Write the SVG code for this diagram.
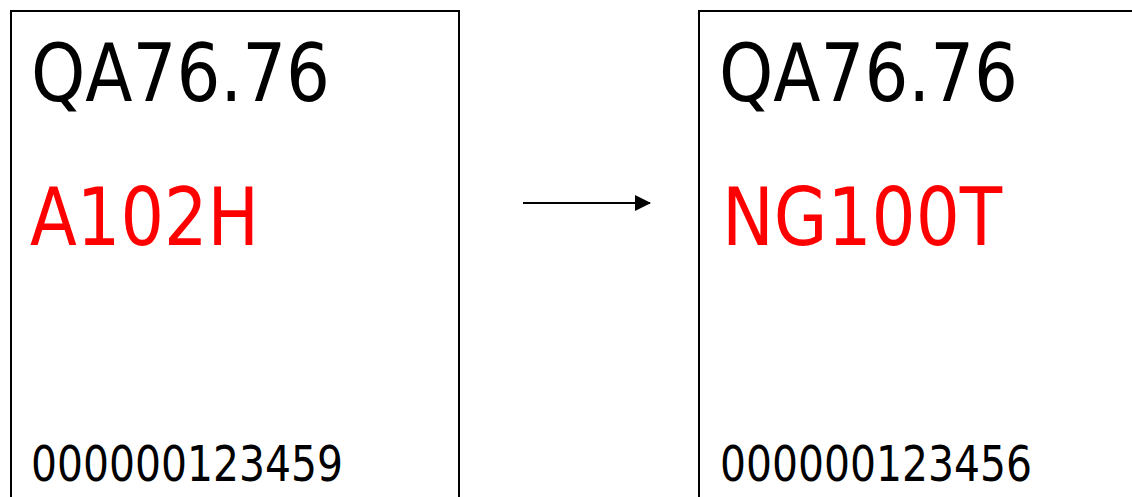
<svg xmlns="http://www.w3.org/2000/svg" width="1132" height="497" viewBox="0 0 1132 497">
<style>
.box{fill:#fff;stroke:#000;stroke-width:2}
.t{font-family:"DejaVu Sans Condensed","DejaVu Sans",sans-serif}
.big{font-size:80px}
.red{fill:#f00}
.blk{fill:#000}
.num{font-size:50px;fill:#000}
.conn{stroke:#000;stroke-width:2;fill:none}
</style>
<defs>
<marker id="ah" viewBox="0 0 16 16" refX="15" refY="8" markerWidth="16" markerHeight="16" markerUnits="userSpaceOnUse" orient="auto">
<path d="M0,0 L16,8 L0,16 Z" fill="#000"/>
</marker>
</defs>
<rect width="1132" height="497" fill="#fff"/>
<g id="node-left">
<rect class="box" x="11" y="11" width="448" height="500"/>
<text class="t big blk" x="31" y="101" textLength="299" lengthAdjust="spacingAndGlyphs">QA76.76</text>
<text class="t big red" x="30" y="245" textLength="229" lengthAdjust="spacingAndGlyphs">A102H</text>
<text class="t num" x="31" y="481" textLength="312" lengthAdjust="spacingAndGlyphs">000000123459</text>
</g>
<g id="node-right">
<rect class="box" x="699" y="11" width="450" height="500"/>
<text class="t big blk" x="719" y="101" textLength="299" lengthAdjust="spacingAndGlyphs">QA76.76</text>
<text class="t big red" x="722" y="245" textLength="280" lengthAdjust="spacingAndGlyphs">NG100T</text>
<text class="t num" x="720" y="481" textLength="312" lengthAdjust="spacingAndGlyphs">000000123456</text>
</g>
<g id="connectors">
<line class="conn" x1="523" y1="203" x2="650" y2="203" marker-end="url(#ah)"/>
</g>
</svg>
